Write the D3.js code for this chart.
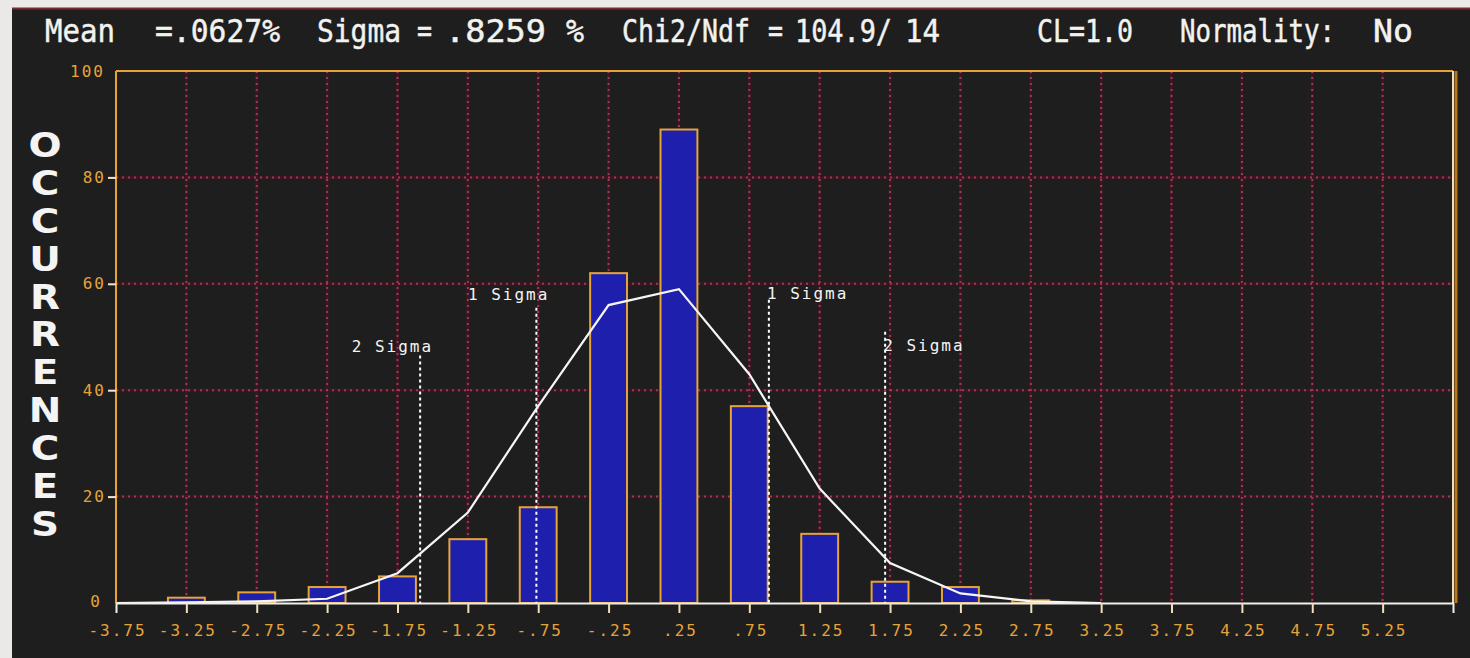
<!DOCTYPE html>
<html><head><meta charset="utf-8">
<script src="https://cdn.jsdelivr.net/npm/d3@7"></script>
<style>
html,body{margin:0;padding:0;background:#e9e7e7;overflow:hidden}
svg{display:block}
</style></head>
<body>
<svg id="chart" width="1470" height="658"></svg>
<script>
// ---- data ----
const binCenters = [-3.25,-2.75,-2.25,-1.75,-1.25,-0.75,-0.25,0.25,0.75,1.25,1.75,2.25,2.75];
const counts     = [1, 2, 3, 5, 12, 18, 62, 89, 37, 13, 4, 3, 0.5];
const fitX       = [-3.75,-3.25,-2.75,-2.25,-1.75,-1.25,-0.75,-0.25,0.25,0.75,1.25,1.75,2.25,2.75,3.25];
const fitY       = [0, 0.1, 0.3, 0.8, 5.6, 17, 37, 56, 59, 43, 21.5, 7.5, 1.8, 0.3, 0];
const xTickValues = [-3.75,-3.25,-2.75,-2.25,-1.75,-1.25,-0.75,-0.25,0.25,0.75,1.25,1.75,2.25,2.75,3.25,3.75,4.25,4.75,5.25];
const xTickLabels = ["-3.75","-3.25","-2.75","-2.25","-1.75","-1.25","-.75","-.25",".25",".75","1.25","1.75","2.25","2.75","3.25","3.75","4.25","4.75","5.25"];
const yTickValues = [0,20,40,60,80,100];
const sigmaValues = [-1.589, -0.763, 0.889, 1.715];
const sigmaLabels = ["2 Sigma","1 Sigma","1 Sigma","2 Sigma"];
const titleParts  = ["Mean","=.0627%","Sigma","=",".8259","%","Chi2/Ndf","=","104.9/","14","CL=1.0","Normality:","No"];
const yTitle = "OCCURRENCES";

// ---- layout ----
const svg = d3.select("#chart");
const L = 116, R = 1453, T = 71, B = 603;
const x = d3.scaleLinear().domain([-3.75, 5.75]).range([L, R]);
const y = d3.scaleLinear().domain([0, 100]).range([B, T]);

const ORANGE = "#e6a33a", DARK = "#1e1e1e";

// background panels
svg.append("rect").attr("x",0).attr("y",0).attr("width",1470).attr("height",658).attr("fill","#ebe8e8");
svg.append("rect").attr("x",12).attr("y",8).attr("width",1458).attr("height",650).attr("fill",DARK);
svg.append("line").attr("x1",12).attr("x2",1470).attr("y1",8.5).attr("y2",8.5).attr("stroke","#7a2a2a").attr("stroke-width",2);

// title
const titleX = [45,155,317,417,445,566,622,768,795,905,1037,1180,1373];
const titleW = [70,125,84,15,101,18,128,15,97,35,96,155,40];
svg.append("g").attr("transform","translate(0,42) scale(1,1.15)")
  .selectAll("text").data(titleParts).join("text")
  .attr("x",(d,i)=>titleX[i]).attr("y",0)
  .attr("textLength",(d,i)=>titleW[i]).attr("lengthAdjust","spacingAndGlyphs")
  .attr("fill","#f2f2ee").attr("font-family","'DejaVu Sans Mono', monospace").attr("font-size",27)
  .attr("stroke","#f2f2ee").attr("stroke-width",0.4)
  .text(d=>d);

// y title stacked letters
svg.append("g").attr("transform","translate(45,0) scale(1.18,1)")
  .selectAll("text").data(yTitle.split("")).join("text")
  .attr("x",0).attr("y",(d,i)=>157 + i*37.9)
  .attr("text-anchor","middle").attr("fill","#f4f4f4")
  .attr("font-family","'DejaVu Sans', sans-serif").attr("font-weight","bold").attr("font-size",33)
  .text(d=>d);

// grid
const gridX = xTickValues.slice(1);
const gridY = [20,40,60,80];
const grid = svg.append("g");
gridX.forEach(v=>{
  grid.insert("line",":first-child").attr("x1",x(v)).attr("x2",x(v)).attr("y1",T).attr("y2",B).attr("stroke","#3a1820").attr("stroke-width",3);
  grid.append("line").attr("x1",x(v)).attr("x2",x(v)).attr("y1",T).attr("y2",B)
    .attr("stroke","#a8345a").attr("stroke-width",2).attr("stroke-dasharray","2,4");
});
gridY.forEach(v=>{
  grid.insert("line",":first-child").attr("x1",L).attr("x2",R).attr("y1",y(v)).attr("y2",y(v)).attr("stroke","#3a1820").attr("stroke-width",3);
  grid.append("line").attr("x1",L).attr("x2",R).attr("y1",y(v)).attr("y2",y(v))
    .attr("stroke","#a8345a").attr("stroke-width",2).attr("stroke-dasharray","2,4");
});

// bars
const halfW = 0.131;
svg.append("g").selectAll("rect").data(binCenters).join("rect")
  .attr("x",d=>x(d-halfW)).attr("width",d=>x(d+halfW)-x(d-halfW))
  .attr("y",(d,i)=>y(counts[i])).attr("height",(d,i)=>B-y(counts[i]))
  .attr("fill","#1f1fad").attr("stroke",ORANGE).attr("stroke-width",2);

// sigma lines
const sigTop = [46.5, 55.5, 57, 51];
const sigLabY = [47.1, 56.9, 57.1, 47.3];
const sg = svg.append("g");
sigmaValues.forEach((v,i)=>{
  sg.append("line").attr("x1",x(v)).attr("x2",x(v)).attr("y1",y(sigTop[i])).attr("y2",B)
    .attr("stroke","#ffffff").attr("stroke-width",2).attr("stroke-dasharray","3,3");
  const left = v < 0;
  sg.append("text").attr("x", left ? x(v)+13 : x(v)-2).attr("y",y(sigLabY[i]))
    .attr("text-anchor", left ? "end" : "start")
    .attr("fill","#f4f4f4").attr("font-family","'DejaVu Sans Mono', monospace").attr("font-size",16)
    .attr("letter-spacing","2px").text(sigmaLabels[i]);
});

// fit line
svg.append("path").datum(fitX.map((v,i)=>[v,fitY[i]]))
  .attr("d", d3.line().x(d=>x(d[0])).y(d=>y(d[1])))
  .attr("fill","none").attr("stroke","#f6f6f6").attr("stroke-width",2.2);

// frame
svg.append("line").attr("x1",L).attr("x2",L).attr("y1",T).attr("y2",B).attr("stroke",ORANGE).attr("stroke-width",2);
svg.append("line").attr("x1",L).attr("x2",R).attr("y1",T).attr("y2",T).attr("stroke",ORANGE).attr("stroke-width",2);
svg.append("line").attr("x1",R+3).attr("x2",R+3).attr("y1",T).attr("y2",B).attr("stroke","#b8781e").attr("stroke-width",3);
svg.append("line").attr("x1",R).attr("x2",R).attr("y1",T).attr("y2",B).attr("stroke","#f0e0c0").attr("stroke-width",2);

// x axis
const xAxis = svg.append("g").attr("transform",`translate(0,${B})`)
  .call(d3.axisBottom(x).tickValues(xTickValues).tickSize(10).tickPadding(12)
        .tickFormat((d,i)=>xTickLabels[i]));
xAxis.select(".domain").attr("stroke","#f2efe8").attr("stroke-width",2);
xAxis.selectAll(".tick line").attr("stroke","#efe0b8").attr("stroke-width",2);
xAxis.selectAll(".tick").filter((d,i)=>i===0).select("line").remove();
xAxis.selectAll(".tick text").attr("fill",ORANGE)
  .attr("font-family","'DejaVu Sans Mono', monospace").attr("font-size",16)
  .attr("letter-spacing","2px").attr("dx","1px");

// y axis
const yAxis = svg.append("g").attr("transform",`translate(${L},0)`)
  .call(d3.axisLeft(y).tickValues(yTickValues).tickSize(8).tickPadding(2));
yAxis.select(".domain").remove();
yAxis.selectAll(".tick line").attr("stroke","#f0e6d0").attr("stroke-width",2);
yAxis.selectAll(".tick").filter(d=>d===0||d===100).select("line").remove();
yAxis.selectAll(".tick text").attr("fill",ORANGE)
  .attr("font-family","'DejaVu Sans Mono', monospace").attr("font-size",16)
  .attr("letter-spacing","2px");
yAxis.selectAll(".tick").filter(d=>d===0).select("text").attr("x",-14).attr("dy","0.2em");
yAxis.selectAll(".tick").filter(d=>d===100).select("text").attr("x",-11);
</script>
</body></html>
